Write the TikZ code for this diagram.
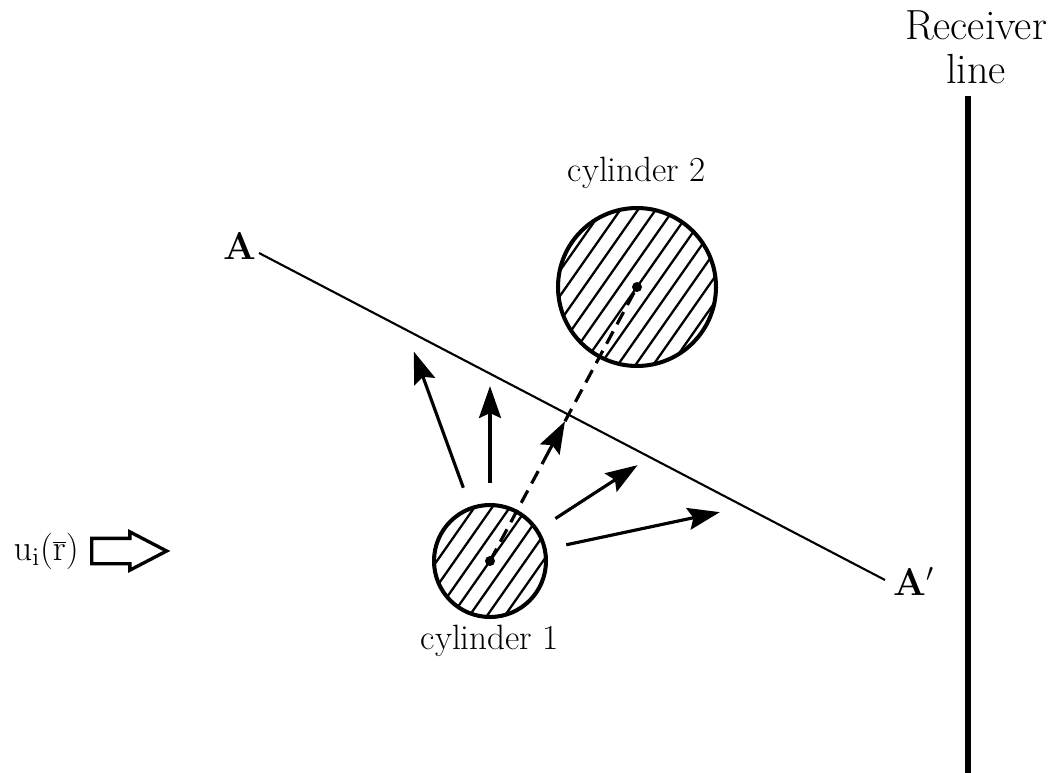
\documentclass[tikz,border=0pt]{standalone}
\usetikzlibrary{shapes.arrows, positioning, arrows.meta, calc}

\begin{document}
\begin{tikzpicture}[
    x=0.02cm,
    y=-0.02cm,
    cyl/.style={
        circle,
        draw,
        line width=2.3pt,
        inner sep=0pt
    },
    hatch/.style={
        line width=1.3pt
    },
    ray/.style={
        -{Stealth[length=0.64cm, width=0.44cm, inset=0.1cm]},
        line width=1.8pt
    },
    axisline/.style={
        dash pattern=on 0.28cm off 0.16cm,
        line width=1.8pt
    },
    lbl/.style={
        font=\fontsize{20}{22}\selectfont
    },
    incarrow/.style={
        single arrow,
        draw,
        line width=1.9pt,
        minimum height=1.5cm,
        minimum width=0pt,
        single arrow head extend=0.13cm,
        single arrow tip angle=55,
        inner xsep=0pt,
        inner ysep=0.22cm
    }
]
    \useasboundingbox (0,0) rectangle (1061,773);

    % Cylinders
    \node[cyl, minimum size=2.24cm] (cyl1) at (490,561) {};
    \node[cyl, minimum size=3.16cm] (cyl2) at (637,287) {};
    \node[lbl, above=0.22cm of cyl2] (lab2) {cylinder 2};
    \node[lbl, below=0.0cm of cyl1] (lab1) {cylinder 1};

    % Hatching inside the cylinders
    \foreach \c/\r/\n in {cyl1/1.12/5, cyl2/1.58/7} {
        \begin{scope}
            \clip (\c.center) circle[radius=\r cm];
            \begin{scope}[shift={(\c.center)}, rotate=55]
                \foreach \k in {-\n,...,\n}
                    \draw[hatch] (-4cm,\k*0.29cm) -- (4cm,\k*0.29cm);
            \end{scope}
        \end{scope}
    }

    % Centre dots
    \fill (cyl1.center) circle[radius=0.1cm];
    \fill (cyl2.center) circle[radius=0.1cm];

    % Line of centres, dashed, with a solid head
    \coordinate (tip) at ($(cyl1.center)!0.51!(cyl2.center)$);
    \coordinate (headbase) at ($(cyl1.center)!0.36!(cyl2.center)$);
    \draw[axisline] (cyl1.center) -- (headbase);
    \draw[ray] (headbase) -- (tip);
    \draw[axisline] (tip) -- (cyl2.center);

    % Scattered rays
    \foreach \a/\l in {110/4.46, 90/3.5, 33/3.52, 12/4.7}
        \draw[ray] ($(cyl1.center)+(\a:1.56cm)$) -- ($(cyl1.center)+(\a:\l cm)$);

    % Line A -- A'
    \coordinate (abeg) at (259,253);
    \coordinate (aend) at (885,580);
    \draw[line width=1.2pt] (abeg) -- (aend);
    \node[lbl, font=\fontsize{22}{24}\selectfont, anchor=base east] (labA) at ([xshift=0.08cm, yshift=-0.14cm]abeg) {\textbf{A}};
    \node[lbl, font=\fontsize{22}{24}\selectfont, anchor=base west] (labAp) at ([xshift=0.04cm, yshift=-0.3cm]aend) {\textbf{A}$'$};

    % Receiver line
    \coordinate (rtop) at (968,96);
    \coordinate (rbot) at (968,773);
    \draw[line width=3.4pt] (rtop) -- (rbot);
    \node[lbl, font=\fontsize{24}{25}\selectfont, align=center] (rec) at (976,47) {Receiver\\line};

    % Incident field
    \node[incarrow, anchor=tail] (inc) at (90,551) {};
    \node[lbl, left=0.1cm of inc] (ui) {$\mathrm{u_i(\overline{r})}$};

\end{tikzpicture}
\end{document}
